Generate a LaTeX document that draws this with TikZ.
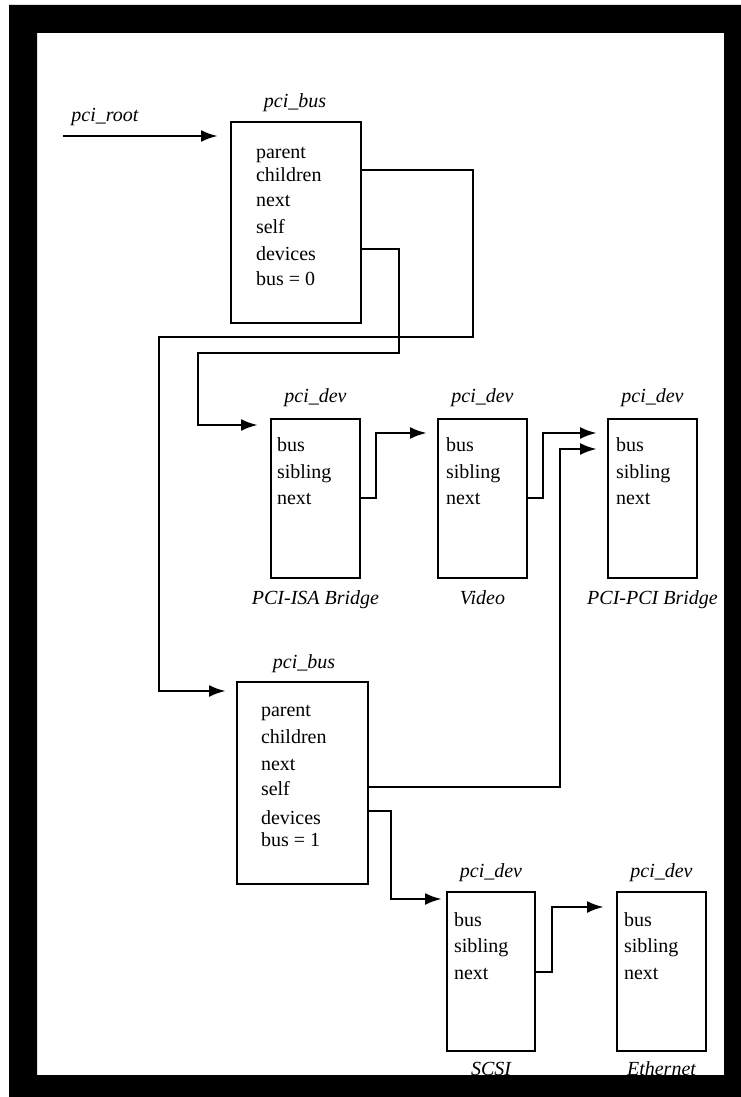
\documentclass[tikz,border=0pt]{standalone}
\usepackage{fontspec}
\setmainfont{Liberation Serif}
\usetikzlibrary{arrows.meta,calc}
\begin{document}
\begin{tikzpicture}[x=1pt,y=-1pt,
  every node/.style={font=\fontsize{20}{24}\selectfont, inner sep=0pt, outer sep=0pt},
  boxst/.style={draw, line width=2.8pt, anchor=north west, inner sep=0pt},
  busbox/.style={boxst, minimum width=130pt, minimum height=201pt},
  devbox/.style={boxst, minimum width=89pt, minimum height=159pt},
  field/.style={anchor=base west},
  title/.style={anchor=base, font=\fontsize{20}{24}\selectfont\itshape},
  conn/.style={line width=2.8pt},
  arr/.style={conn, -{Latex[length=17pt,width=12pt]}, shorten >=11pt}]
\useasboundingbox (0,0) rectangle (741,1097);
\fill[white] (0,0) rectangle (741,1097);

% pci_bus 0
\node[busbox] (bus0) at (231,122) {};
\node[title] (bus0t) at (295,108) {pci\_bus};
\node[field] (b0parent) at (256,158) {parent};
\node[field] (b0children) at (256,181) {children};
\node[field] (b0next) at (256,206) {next};
\node[field] (b0self) at (256,233) {self};
\node[field] (b0devices) at (256,260) {devices};
\node[field] (b0bus) at (256,285) {bus = 0};

% pci_root
\node[title] (roott) at (105,122) {pci\_root};
\coordinate (rootstart) at (63,136);

% pci_dev row 1
\node[devbox] (d1) at (271,419) {};
\node[devbox] (d2) at (438,419) {};
\node[devbox] (d3) at (608,419) {};
\foreach \n/\x in {d1/277,d2/446,d3/616}{
  \node[field] (\n bus) at (\x,451) {bus};
  \node[field] (\n sib) at (\x,478) {sibling};
  \node[field] (\n next) at (\x,504) {next};
}
\node[title] (d1t) at (d1.north |- 0,402) {pci\_dev};
\node[title] (d2t) at (d2.north |- 0,402) {pci\_dev};
\node[title] (d3t) at (d3.north |- 0,402) {pci\_dev};
\node[title] (d1n) at (d1.south |- 0,604) {PCI-ISA Bridge};
\node[title] (d2n) at (d2.south |- 0,604) {Video};
\node[title] (d3n) at (d3.south |- 0,604) {PCI-PCI Bridge};

% pci_bus 1
\node[busbox, minimum width=131pt, minimum height=202pt] (bus1) at (237,682) {};
\node[title] (bus1t) at (304,668) {pci\_bus};
\node[field] (b1parent) at (261,716) {parent};
\node[field] (b1children) at (261,743) {children};
\node[field] (b1next) at (261,770) {next};
\node[field] (b1self) at (261,795) {self};
\node[field] (b1devices) at (261,824) {devices};
\node[field] (b1bus) at (261,846) {bus = 1};

% pci_dev row 2
\node[devbox, minimum width=88pt] (d4) at (447,892) {};
\node[devbox] (d5) at (617,892) {};
\foreach \n/\x in {d4/454,d5/624}{
  \node[field] (\n bus) at (\x,926) {bus};
  \node[field] (\n sib) at (\x,952) {sibling};
  \node[field] (\n next) at (\x,979) {next};
}
\node[title] (d4t) at (d4.north |- 0,877) {pci\_dev};
\node[title] (d5t) at (d5.north |- 0,877) {pci\_dev};
\node[title] (d4n) at (d4.south |- 0,1075) {SCSI};
\node[title] (d5n) at (d5.south |- 0,1075) {Ethernet};

% connectors
\draw[arr, shorten >=13pt] (rootstart) -- (bus0.west |- rootstart);
\draw[arr] (bus0.east |- 0,170) -| (473,337) -| (159,691) -- (bus1.west |- 0,691);
\draw[arr, shorten >=13pt] (bus0.east |- 0,249) -| (399,353) -| (198,425) -- (d1.west |- 0,425);
\draw[arr] (d1.east |- 0,498) -| (376,433) -- (d2.west |- 0,433);
\draw[arr] (d2.east |- 0,498) -| (543,433) -- (d3.west |- 0,433);
\draw[arr] (bus1.east |- 0,787) -| (560,449) -- (d3.west |- 0,449);
\draw[arr, shorten >=5pt] (bus1.east |- 0,811) -| (391,899) -- (d4.west |- 0,899);
\draw[arr, shorten >=13pt] (d4.east |- 0,972) -| (552,907) -- (d5.west |- 0,907);

% frame
\fill[black, even odd rule] (9,5) rectangle (741,1097) (37,33) rectangle (724,1075);
\end{tikzpicture}
\end{document}
